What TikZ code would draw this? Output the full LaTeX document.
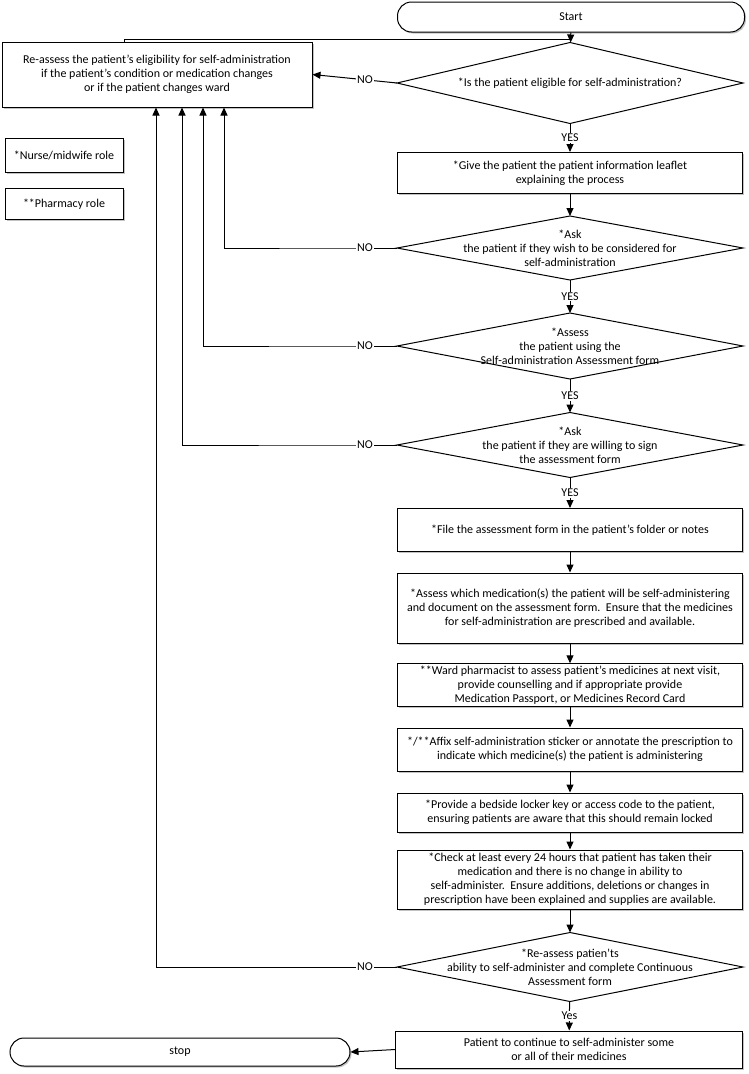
\documentclass[tikz,border=0pt]{standalone}
\usepackage{fontspec}
\setmainfont{Carlito}
\usetikzlibrary{arrows.meta,calc,shadows}
\begin{document}
\begin{tikzpicture}[x=1pt,y=-1pt,
    font=\fontsize{12}{14}\selectfont,
    line width=1pt, >={Triangle[length=8pt,width=7pt]},
    box/.style={draw, fill=white, align=center, inner sep=2pt,
      drop shadow={shadow xshift=1.5pt,shadow yshift=-1.5pt,fill=black!40,opacity=0.6}},
    term/.style={box, rounded corners=14pt},
    decision/.style={align=center, inner sep=0pt, minimum width=345pt},
    lbl/.style={fill=white, inner sep=1pt}]
        \useasboundingbox (0,0) rectangle (748,1074);
        %Start and stop
        \node[term, minimum width=347pt, minimum height=30pt] (start) at (571,17) {Start};
        \node[term, minimum width=340pt, minimum height=28pt] (stop) at (180,1052) {stop};
        %Left side boxes
        \node[box, minimum width=310pt, minimum height=65pt] (reassess) at (157,74.5)
          {Re-assess the patient’s eligibility for self-administration\\if the patient’s condition or medication changes\\or if the patient changes ward};
        \node[box, minimum width=118pt, minimum height=34pt] (nurse) at (64,155) {*Nurse/midwife role};
        \node[box, minimum width=118pt, minimum height=31pt] (pharm) at (64,204) {**Pharmacy role};
        %Decisions
        \node[decision, minimum height=80pt] (d1) at (570,83) {*Is the patient eligible for self-administration?};
        \node[decision, minimum height=63pt] (d2) at (570,248)
          {*Ask\\the patient if they wish to be considered for\\self-administration};
        \node[decision, minimum height=65pt] (d3) at (570,346)
          {*Assess\\the patient using the\\Self-administration Assessment form};
        \node[decision, minimum height=64pt] (d4) at (570,445)
          {*Ask\\the patient if they are willing to sign\\the assessment form};
        \node[decision, minimum height=68pt] (d5) at (570,967)
          {*Re-assess patien’ts\\ability to self-administer and complete Continuous\\Assessment form};
        \foreach \d in {d1,d2,d3,d4,d5}
          \draw (\d.north) -- (\d.east) -- (\d.south) -- (\d.west) -- cycle;
        %Process boxes
        \node[box, minimum width=345pt, minimum height=41pt] (give) at (570,173)
          {*Give the patient the patient information leaflet\\explaining the process};
        \node[box, minimum width=345pt, minimum height=43pt] (file) at (570,530)
          {*File the assessment form in the patient’s folder or notes};
        \node[box, minimum width=345pt, minimum height=70pt] (assess) at (570,608)
          {*Assess which medication(s) the patient will be self-administering\\and document on the assessment form.\ \ Ensure that the medicines\\for self-administration are prescribed and available.};
        \node[box, minimum width=345pt, minimum height=42pt] (ward) at (570,685)
          {**Ward pharmacist to assess patient’s medicines at next visit,\\provide counselling and if appropriate provide\\Medication Passport, or Medicines Record Card};
        \node[box, minimum width=345pt, minimum height=43pt] (affix) at (570,749.5)
          {*/**Affix self-administration sticker or annotate the prescription to\\indicate which medicine(s) the patient is administering};
        \node[box, minimum width=345pt, minimum height=39pt] (provide) at (570,812.5)
          {*Provide a bedside locker key or access code to the patient,\\ensuring patients are aware that this should remain locked};
        \node[box, minimum width=345pt, minimum height=59pt] (check) at (570,879.5)
          {*Check at least every 24 hours that patient has taken their\\medication and there is no change in ability to\\self-administer.\ \ Ensure additions, deletions or changes in\\prescription have been explained and supplies are available.};
        \node[box, minimum width=347pt, minimum height=37pt] (cont) at (569,1049.5)
          {Patient to continue to self-administer some\\or all of their medicines};
        %Main flow
        \draw[->] (start) -- (d1);
        \draw ([xshift=-33pt]reassess.north) |- ($(start.south)!0.7!(d1.north)$);
        \draw[->] (d1.west) -- node[lbl, pos=0.38] {NO} (reassess.east);
        \draw[->] (d1) -- node[lbl] {YES} (give);
        \draw[->] (give) -- (d2);
        \draw[->] (d2) -- node[lbl] {YES} (d3);
        \draw[->] (d3) -- node[lbl] {YES} (d4);
        \draw[->] (d4) -- node[lbl] {YES} (file);
        \foreach \a/\b in {file/assess, assess/ward, ward/affix, affix/provide, provide/check, check/d5}
          \draw[->] (\a) -- (\b);
        \draw[->] (d5) -- node[lbl] {Yes} (cont);
        \draw[->] (cont.west) -- (stop.east);
        %NO branches back up
        \foreach \d/\x in {d2/67, d3/46, d4/25, d5/-1}
          \draw[->] (\d.west) -- node[lbl] {NO} ++(-64,0) -| ([xshift=\x pt]reassess.south);
\end{tikzpicture}
\end{document}
